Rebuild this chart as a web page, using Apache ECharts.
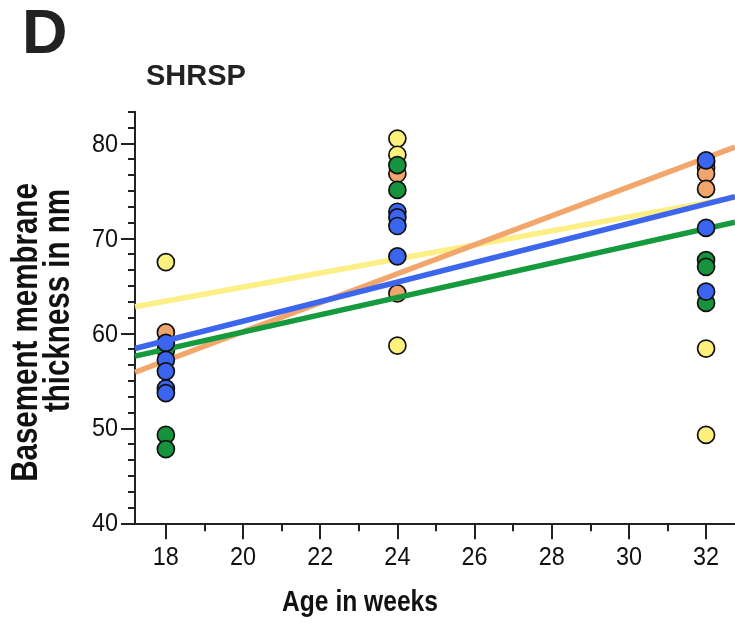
<!DOCTYPE html>
<html><head><meta charset="utf-8">
<script src="https://cdn.jsdelivr.net/npm/echarts@6/dist/echarts.min.js"></script>
<style>html,body{margin:0;padding:0;background:#fff}#c{width:735px;height:623px}</style>
</head><body><div id="c"></div>
<script>
// ---- data ----
const xTickLabels = [18, 20, 22, 24, 26, 28, 30, 32];
const xMinorTicks = [19, 21, 23, 25, 27, 29, 31];
const yTickLabels = [40, 50, 60, 70, 80];
const yMinorTicks = [41.667, 43.333, 45, 46.667, 48.333, 51.667, 53.333, 55, 56.667, 58.333,
                     61.667, 63.333, 65, 66.667, 68.333, 71.667, 73.333, 75, 76.667, 78.333,
                     81.667, 83.333];

const yellowAge = [18, 24, 24, 24, 32, 32];
const yellowVal = [67.5, 80.5, 78.8, 58.7, 58.4, 49.3];
const orangeAge = [18, 24, 24, 32, 32, 32, 32];
const orangeVal = [60.1, 76.8, 64.2, 78.0, 77.4, 76.8, 75.2];
const greenAge = [18, 18, 18, 24, 24, 32, 32, 32];
const greenVal = [58.2, 49.3, 47.8, 77.7, 75.1, 67.7, 67.0, 63.2];
const blueAge = [18, 18, 18, 18, 18, 24, 24, 24, 24, 32, 32, 32];
const blueVal = [59.0, 57.2, 56.0, 54.2, 53.7, 72.8, 72.2, 71.3, 68.1, 78.2, 71.1, 64.4];

const fitAge = [17.2, 32.75];
const yellowFit = [62.8, 74.3];
const orangeFit = [55.9, 79.6];
const greenFit = [57.6, 71.7];
const blueFit = [58.4, 74.4];

const xTitle = 'Age in weeks';
const yTitleLines = ['Basement membrane', 'thickness in nm'];

const xMin = 17.2, xMax = 32.75, yMin = 40, yMax = 83.333;

// ---- styling ----
const colors = {
  yellow: { pt: '#fdf07c', ln: '#fbef86' },
  orange: { pt: '#f0a56c', ln: '#f2a66c' },
  green:  { pt: '#17933d', ln: '#169a3e' },
  blue:   { pt: '#3b64ef', ln: '#3c66ee' }
};
const sans = "'Liberation Sans', Arial, sans-serif";
const axisCol = '#222';
const NARROW = 0.82;     // condensing for axis titles
const NARROW_LBL = 0.9;  // condensing for tick labels

const zip = (a, b) => a.map((v, i) => [v, b[i]]);
const groups = [
  ['yellow', yellowAge, yellowVal, yellowFit],
  ['orange', orangeAge, orangeVal, orangeFit],
  ['green', greenAge, greenVal, greenFit],
  ['blue', blueAge, blueVal, blueFit]
];
const series = [];
let z = 2;
groups.forEach(([name, ages, vals, fit]) => {
  series.push({
    type: 'scatter', name: name + ' pts', data: zip(ages, vals), z: z++,
    symbol: 'circle', symbolSize: 17,
    itemStyle: { color: colors[name].pt, borderColor: '#111', borderWidth: 1.7, opacity: 1 },
    emphasis: { disabled: true }, silent: true
  });
  series.push({
    type: 'line', name: name + ' fit', data: zip(fitAge, fit), z: z++,
    showSymbol: false, symbol: 'none',
    lineStyle: { color: colors[name].ln, width: 5.5 },
    emphasis: { disabled: true }, silent: true
  });
});

const chart = echarts.init(document.getElementById('c'), null, { renderer: 'canvas' });
chart.setOption({
  animation: false,
  backgroundColor: '#fff',
  title: [
    { text: 'D', left: 22, top: 4, padding: 0,
      textStyle: { fontSize: 63, fontWeight: 'bold', color: '#222', fontFamily: sans } },
    { text: 'SHRSP', left: 146, top: 62, padding: 0,
      textStyle: { fontSize: 29, fontWeight: 'bold', color: '#222', fontFamily: sans } }
  ],
  grid: { left: 135, right: 0, top: 111.7, bottom: 99.7, containLabel: false, outerBoundsMode: 'none' },
  xAxis: [
    { type: 'value', min: xMin, max: xMax,
      axisLine: { show: true, lineStyle: { color: axisCol, width: 2 } },
      axisTick: { show: true, length: 16, customValues: xTickLabels, lineStyle: { color: axisCol, width: 2 } },
      axisLabel: { show: false }, splitLine: { show: false } },
    { type: 'value', min: xMin, max: xMax, position: 'bottom', offset: 0,
      axisLine: { show: false },
      axisTick: { show: true, length: 8, customValues: xMinorTicks, lineStyle: { color: axisCol, width: 2 } },
      axisLabel: { show: false }, splitLine: { show: false } }
  ],
  yAxis: [
    { type: 'value', min: yMin, max: yMax,
      axisLine: { show: true, lineStyle: { color: axisCol, width: 2 } },
      axisTick: { show: true, length: 14, customValues: yTickLabels, lineStyle: { color: axisCol, width: 2 } },
      axisLabel: { show: false }, splitLine: { show: false } },
    { type: 'value', min: yMin, max: yMax, position: 'left', offset: 0,
      axisLine: { show: false },
      axisTick: { show: true, length: 7, customValues: yMinorTicks, lineStyle: { color: axisCol, width: 2 } },
      axisLabel: { show: false }, splitLine: { show: false } }
  ],
  series: series
});

// ---- tick labels and axis titles as condensed text, placed through the axes' scales ----
const gfx = [];
const axisY0 = chart.convertToPixel({ yAxisIndex: 0 }, yMin);
const axisX0 = chart.convertToPixel({ xAxisIndex: 0 }, xMin);
const gridMidY = (chart.convertToPixel({ yAxisIndex: 0 }, yMin) + chart.convertToPixel({ yAxisIndex: 0 }, yMax)) / 2;
xTickLabels.forEach(v => {
  gfx.push({ type: 'text', x: chart.convertToPixel({ xAxisIndex: 0 }, v), y: axisY0 + 35, scaleX: NARROW_LBL, silent: true,
    style: { text: String(v), fill: '#111', font: '26px ' + sans, textAlign: 'center', textVerticalAlign: 'middle' } });
});
yTickLabels.forEach(v => {
  gfx.push({ type: 'text', x: axisX0 - 17, y: chart.convertToPixel({ yAxisIndex: 0 }, v) + 1, scaleX: NARROW_LBL, silent: true,
    style: { text: String(v), fill: '#111', font: '26px ' + sans, textAlign: 'right', textVerticalAlign: 'middle' } });
});
gfx.push({ type: 'text', x: 360, y: axisY0 + 79, scaleX: NARROW, silent: true,
  style: { text: xTitle, fill: '#111', font: 'bold 30px ' + sans, textAlign: 'center', textVerticalAlign: 'middle' } });
gfx.push({ type: 'text', x: 27, y: gridMidY + 15, rotation: Math.PI / 2, scaleX: NARROW, silent: true,
  style: { text: yTitleLines[0], fill: '#111', font: 'bold 36px ' + sans, textAlign: 'center', textVerticalAlign: 'middle' } });
gfx.push({ type: 'text', x: 59, y: gridMidY - 17, rotation: Math.PI / 2, scaleX: NARROW, silent: true,
  style: { text: yTitleLines[1], fill: '#111', font: 'bold 36px ' + sans, textAlign: 'center', textVerticalAlign: 'middle' } });
chart.setOption({ graphic: gfx });
</script>
</body></html>
